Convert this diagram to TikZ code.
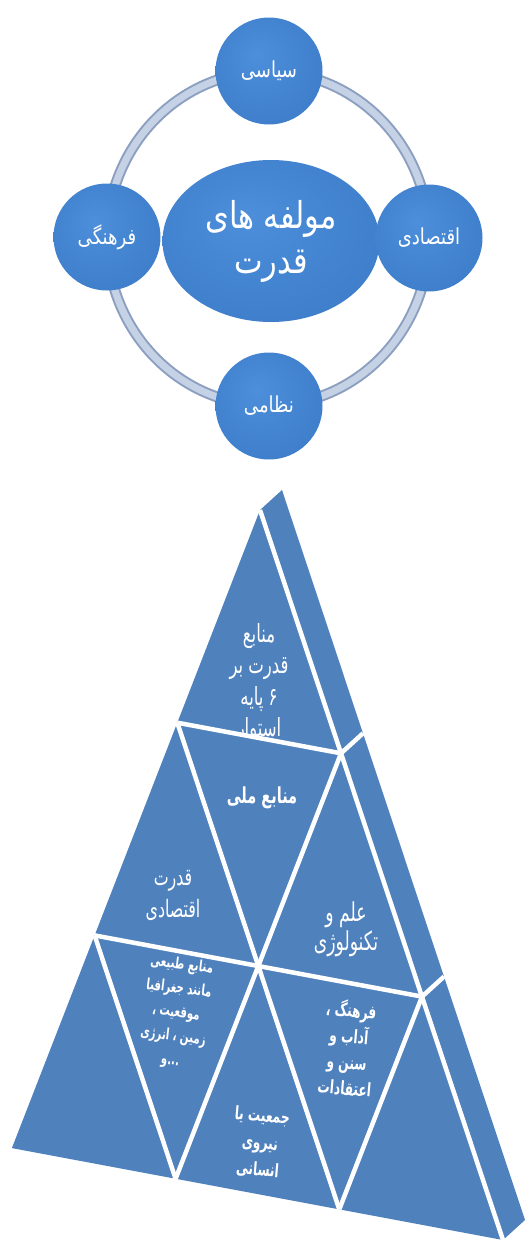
\documentclass[tikz,border=0pt]{standalone}
\usepackage{fontspec}
\usetikzlibrary{shapes.geometric}
\TeXXeTstate=1
\newfontfamily\arabicfont[Script=Arabic,FakeStretch=0.82]{DejaVu Sans}
\newfontfamily\arabicnarrow[Script=Arabic,FakeStretch=0.66]{DejaVu Sans}
\newcommand\rtl[1]{\beginR #1\endR}
\definecolor{pyr}{HTML}{4F81BD}
\definecolor{ringL}{HTML}{C5D2E6}
\definecolor{ringD}{HTML}{8C9FC0}
\definecolor{bubA}{HTML}{4D8FDB}
\definecolor{bubB}{HTML}{3F7FCC}
\definecolor{bubC}{HTML}{3570BA}
\definecolor{bubD}{HTML}{285A9A}
\pgfdeclareradialshading{bub}{\pgfpoint{-6bp}{8bp}}{color(0bp)=(bubA); color(28bp)=(bubB); color(45bp)=(bubC); color(50bp)=(bubD)}
\tikzset{
  bubble/.style={circle, shading=bub, draw=none, text=white, inner sep=0pt, minimum size=107pt,
    font=\arabicfont\fontsize{22}{26}\selectfont},
  centre/.style={ellipse, shading=bub, draw=none, text=white, inner sep=0pt,
    minimum width=217pt, minimum height=162pt, align=center,
    font=\arabicfont\fontsize{37}{45}\selectfont},
  face/.style={fill=pyr, draw=none},
  gap/.style={white, line width=4.5pt},
  ptext/.style={text=white, align=center, inner sep=0pt},
}
\begin{document}
\begin{tikzpicture}[x=1pt,y=-1pt]
\useasboundingbox (0,0) rectangle (525,1245);
% ---------- top: radial diagram ----------
\draw[ringD, line width=11pt] (268,238.5) ellipse [x radius=161pt, y radius=167pt];
\draw[ringL, line width=7pt] (268,238.5) ellipse [x radius=161pt, y radius=167pt];
\node[centre] (c) at (271,241) {\rtl{مولفه های}\\\rtl{قدرت}};
\node[bubble] (sy) at (269,71) {\rtl{سیاسی}};
\node[bubble] (fa) at (107,237) {\rtl{فرهنگی}};
\node[bubble] (eq) at (429,238) {\rtl{اقتصادی}};
\node[bubble] (ne) at (269,406) {\rtl{نظامی}};
% ---------- pyramid ----------
\coordinate (p00) at (260,510);
\coordinate (p10) at (177.3,722.7);
\coordinate (p01) at (341,753.3);
\coordinate (p20) at (94.6,935.4);
\coordinate (p11) at (258.3,966);
\coordinate (p02) at (422,996.6);
\coordinate (p30) at (11.9,1148.1);
\coordinate (p21) at (175.6,1178.7);
\coordinate (p12) at (339.3,1209.3);
\coordinate (p03) at (503,1240);
\coordinate (s0) at (282,490);
\coordinate (s1) at (363,733.3);
\coordinate (s2) at (444,976.6);
\coordinate (s3) at (525,1220);
\fill[face] (p00) -- (p30) -- (p03) -- cycle;
\fill[face] (p00) -- (s0) -- (s3) -- (p03) -- cycle;
% texts
\begin{scope}
\clip (p00) -- (p10) -- (p01) -- cycle;
\node[ptext, font=\arabicnarrow\fontsize{25}{31.5}\selectfont] (t1) at (259,683)
  {\rtl{منابع}\\\rtl{قدرت بر}\\\rtl{۶ پایه}\\\rtl{استوار}};
\end{scope}
\node[ptext, font=\arabicnarrow\bfseries\fontsize{22}{24}\selectfont] (t2) at (262,798) {\rtl{منابع ملی}};
\node[ptext, font=\arabicnarrow\fontsize{24}{32}\selectfont] (t3) at (173,895) {\rtl{قدرت}\\\rtl{اقتصادی}};
\node[ptext, font=\arabicnarrow\fontsize{26}{29}\selectfont] (t4) at (346,929) {\rtl{علم و}\\\rtl{تکنولوژی}};
\node[ptext, rotate=-7, font=\arabicnarrow\bfseries\fontsize{15.5}{24}\selectfont] (t5) at (176,1013)
  {\rtl{منابع طبیعی}\\\rtl{مانند جغرافیا}\\\rtl{موقعیت ،}\\\rtl{زمین ، انرژی}\\\rtl{...و}};
\node[ptext, rotate=-5, font=\arabicnarrow\bfseries\fontsize{18.5}{27}\selectfont] (t6) at (260,1143)
  {\rtl{جمعیت یا}\\\rtl{نیروی}\\\rtl{انسانی}};
\node[ptext, rotate=-5, font=\arabicnarrow\bfseries\fontsize{18.5}{26}\selectfont] (t7) at (348,1048)
  {\rtl{فرهنگ ،}\\\rtl{آداب و}\\\rtl{سنن و}\\\rtl{اعتقادات}};
% white gaps
\draw[gap] (p00) -- (p03);
\draw[gap] (p10) -- (p01);
\draw[gap] (p20) -- (p02);
\draw[gap] (p10) -- (p12);
\draw[gap] (p20) -- (p21);
\draw[gap] (p01) -- (p21);
\draw[gap] (p02) -- (p12);
\draw[gap] (p01) -- (s1);
\draw[gap] (p02) -- (s2);
\end{tikzpicture}
\end{document}
